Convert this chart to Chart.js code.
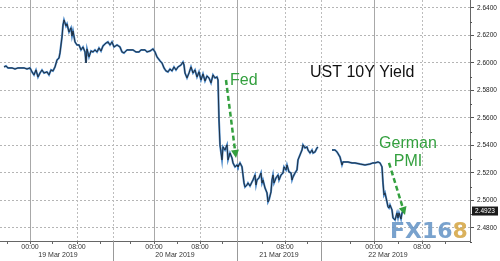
<!DOCTYPE html>
<html>
<head>
<meta charset="utf-8">
<script src="https://cdn.jsdelivr.net/npm/chart.js@4.4.1/dist/chart.umd.min.js"></script>
<style>
  html, body { margin: 0; padding: 0; background: #fff; }
  #wrap { width: 500px; height: 261px; }
</style>
</head>
<body>
<div id="wrap"><canvas id="yieldChart"></canvas></div>
<script>
// bar index on the compressed (session) time axis
const barIndex = [
  4, 6, 8, 12, 15, 18, 21, 24, 27, 30,
  32, 34, 36, 38, 40, 42, 44, 47, 49, 51,
  53, 55, 57, 59, 60, 62, 63, 64, 66, 67,
  69, 71, 72, 73, 75, 77, 79, 81, 83, 85,
  86, 87, 89, 91, 93, 95, 97, 99, 101, 103,
  106, 108, 110, 112, 114, 117, 120, 122, 124, 127,
  130, 133, 136, 139, 141, 145, 147, 150, 153, 155,
  157, 160, 162, 164, 166, 168, 170, 172, 174, 176,
  178, 181, 183, 184, 185, 187, 189, 191, 193, 195,
  197, 199, 201, 203, 205, 207, 209, 211, 213, 215,
  217, 218, 219, 220, 222, 223, 225, 227, 228, 230,
  232, 233, 235, 237, 238, 240, 242, 243, 244, 245,
  247, 248, 250, 252, 253, 255, 256, 257, 259, 261,
  262, 263, 265, 267, 268, 269, 271, 272, 273, 274,
  276, 278, 279, 281, 283, 284, 286, 287, 289, 291,
  292, 293, 295, 297, 298, 300, 302, 303, 305, 307,
  308, 310, 312, 313, 315, 317, 318, 325, 332, 335,
  337, 340, 342, 343, 345, 348, 352, 355, 360, 365,
  370, 373, 375, 378, 380, 382, 383, 384, 385, 387,
  388, 389, 390, 392, 393, 395, 397, 398, 399, 401,
  402, 403
];

// UST 10Y yield (%)
const yieldValues = [
  2.5971, 2.5978, 2.5964, 2.5964, 2.5956, 2.5964, 2.5964, 2.5964, 2.5956, 2.5964,
  2.5935, 2.5913, 2.5949, 2.5898, 2.5927, 2.5949, 2.5927, 2.5935, 2.5913, 2.5949,
  2.5942, 2.5971, 2.6022, 2.6036, 2.6073, 2.6189, 2.6276, 2.6313, 2.6269, 2.6284,
  2.6225, 2.6255, 2.6196, 2.6233, 2.6153, 2.6131, 2.6131, 2.6095, 2.6116, 2.6080,
  2.6000, 2.6102, 2.6044, 2.6087, 2.6080, 2.6095, 2.6080, 2.6109, 2.6087, 2.6124,
  2.6145, 2.6153, 2.6131, 2.6153, 2.6116, 2.6131, 2.6116, 2.6080, 2.6073, 2.6095,
  2.6095, 2.6095, 2.6080, 2.6080, 2.6095, 2.6095, 2.6080, 2.6087, 2.6102, 2.6080,
  2.6044, 2.6015, 2.6000, 2.5964, 2.5942, 2.5935, 2.5956, 2.5942, 2.5971, 2.5949,
  2.5971, 2.5985, 2.6007, 2.5985, 2.5927, 2.5891, 2.5927, 2.5971, 2.5927, 2.5949,
  2.5898, 2.5935, 2.5876, 2.5920, 2.5869, 2.5905, 2.5891, 2.5855, 2.5913, 2.5891,
  2.5898, 2.5876, 2.5585, 2.5404, 2.5295, 2.5389, 2.5367, 2.5404, 2.5295, 2.5345,
  2.5309, 2.5273, 2.5244, 2.5258, 2.5244, 2.5273, 2.5244, 2.5185, 2.5127, 2.5098,
  2.5113, 2.5127, 2.5105, 2.5135, 2.5149, 2.5185, 2.5113, 2.5149, 2.5164, 2.5200,
  2.5127, 2.5149, 2.5091, 2.5055, 2.4989, 2.5004, 2.5062, 2.5149, 2.5185, 2.5127,
  2.5164, 2.5185, 2.5149, 2.5185, 2.5200, 2.5244, 2.5222, 2.5258, 2.5207, 2.5200,
  2.5149, 2.5171, 2.5200, 2.5222, 2.5295, 2.5331, 2.5367, 2.5404, 2.5382, 2.5389,
  2.5367, 2.5345, 2.5367, 2.5345, 2.5353, 2.5382, 2.5389, null, 2.5367, 2.5367,
  2.5353, 2.5316, 2.5258, 2.5280, 2.5280, 2.5280, 2.5273, 2.5273, 2.5265, 2.5258,
  2.5265, 2.5273, 2.5273, 2.5280, 2.5273, 2.5244, 2.5127, 2.5040, 2.5055, 2.4989,
  2.4953, 2.4945, 2.4967, 2.4931, 2.4873, 2.4858, 2.4909, 2.4873, 2.4909, 2.4865,
  2.4909, 2.4923
];

// axis ticks
const yTickValues = [2.48, 2.50, 2.52, 2.54, 2.56, 2.58, 2.60, 2.62, 2.64];
const yMinorValues = [2.47, 2.49, 2.51, 2.53, 2.55, 2.57, 2.59, 2.61, 2.63];
const dayStartBars = [30, 154, 237, 374];
const timeTickBars = [30, 77, 154, 200, 285, 374, 422];
const timeTickLabels = ['00:00', '08:00', '00:00', '08:00', '08:00', '00:00', '08:00'];
const minorTickBars = [7, 52, 100, 130, 177, 222, 262, 307, 350, 398, 445];
const dottedBars = [77, 113, 200, 285, 321, 422];
const dateBreakBars = [113, 237, 321];
const dateLabelBars = [58, 175, 279, 388];
const dateLabels = ['19 Mar 2019', '20 Mar 2019', '21 Mar 2019', '22 Mar 2019'];

const points = barIndex.map((b, i) => ({ x: b, y: yieldValues[i] }));
const lastValue = yieldValues[yieldValues.length - 1];
const lastBar = barIndex[barIndex.length - 1];

Chart.defaults.font.family = '"Liberation Sans", Arial, sans-serif';

function drawArrow(ctx, x1, y1, x2, y2) {
  const ang = Math.atan2(y2 - y1, x2 - x1);
  const head = 8;
  const bx = x2 - head * Math.cos(ang);
  const by = y2 - head * Math.sin(ang);
  ctx.setLineDash([5, 3]);
  ctx.lineWidth = 2.5;
  ctx.beginPath();
  ctx.moveTo(x1, y1);
  ctx.lineTo(bx, by);
  ctx.stroke();
  ctx.setLineDash([]);
  ctx.beginPath();
  ctx.moveTo(x2, y2);
  ctx.lineTo(bx + 4 * Math.sin(ang), by - 4 * Math.cos(ang));
  ctx.lineTo(bx - 4 * Math.sin(ang), by + 4 * Math.cos(ang));
  ctx.closePath();
  ctx.fill();
}

const overlay = {
  id: 'overlay',
  beforeDatasetsDraw(chart) {
    const { ctx, chartArea: a, scales: { x } } = chart;
    ctx.save();
    ctx.lineWidth = 1;
    ctx.strokeStyle = '#a8a8a8';
    dayStartBars.forEach(b => {
      const px = Math.round(x.getPixelForValue(b)) + 0.5;
      ctx.beginPath(); ctx.moveTo(px, a.top); ctx.lineTo(px, a.bottom); ctx.stroke();
    });
    ctx.strokeStyle = '#bdbdbd';
    ctx.setLineDash([2, 2]);
    dottedBars.forEach(b => {
      const px = Math.round(x.getPixelForValue(b)) + 0.5;
      ctx.beginPath(); ctx.moveTo(px, a.top); ctx.lineTo(px, a.bottom); ctx.stroke();
    });
    ctx.restore();
  },
  afterDraw(chart) {
    const { ctx, chartArea: a, scales: { x, y } } = chart;
    ctx.save();

    // x axis ticks, separators and labels
    ctx.strokeStyle = '#666';
    ctx.lineWidth = 1;
    timeTickBars.concat(minorTickBars).forEach(b => {
      const px = Math.round(x.getPixelForValue(b)) + 0.5;
      ctx.beginPath(); ctx.moveTo(px, a.bottom); ctx.lineTo(px, a.bottom + 3); ctx.stroke();
    });
    ctx.strokeStyle = '#999';
    dateBreakBars.forEach(b => {
      const px = Math.round(x.getPixelForValue(b)) + 0.5;
      ctx.beginPath(); ctx.moveTo(px, a.bottom); ctx.lineTo(px, chart.height); ctx.stroke();
    });
    ctx.fillStyle = '#333';
    ctx.font = '7px "Liberation Sans", Arial, sans-serif';
    ctx.textAlign = 'center';
    ctx.textBaseline = 'middle';
    timeTickBars.forEach((b, i) => ctx.fillText(timeTickLabels[i], x.getPixelForValue(b), a.bottom + 6.5));
    dateLabelBars.forEach((b, i) => ctx.fillText(dateLabels[i], x.getPixelForValue(b), a.bottom + 14.5));

    // y minor ticks
    ctx.strokeStyle = '#555';
    yMinorValues.forEach(v => {
      const py = Math.round(y.getPixelForValue(v)) + 0.5;
      ctx.beginPath(); ctx.moveTo(a.right, py); ctx.lineTo(a.right + 2, py); ctx.stroke();
    });

    // title
    ctx.fillStyle = '#111';
    ctx.font = '16px "Liberation Sans", Arial, sans-serif';
    ctx.textAlign = 'left';
    ctx.textBaseline = 'alphabetic';
    ctx.fillText('UST 10Y Yield', x.getPixelForValue(310), y.getPixelForValue(2.5898));

    // annotations
    const green = '#34a03f';
    ctx.fillStyle = green;
    ctx.strokeStyle = green;
    ctx.fillText('Fed', x.getPixelForValue(230), y.getPixelForValue(2.5840));
    ctx.textAlign = 'center';
    ctx.fillText('German', x.getPixelForValue(408), y.getPixelForValue(2.5382));
    ctx.fillText('PMI', x.getPixelForValue(408), y.getPixelForValue(2.5251));
    drawArrow(ctx, x.getPixelForValue(226), y.getPixelForValue(2.5876),
                   x.getPixelForValue(236), y.getPixelForValue(2.5309));
    drawArrow(ctx, x.getPixelForValue(389), y.getPixelForValue(2.5273),
                   x.getPixelForValue(405), y.getPixelForValue(2.4895));

    // watermark
    ctx.font = 'bold 22px "DejaVu Sans", sans-serif';
    ctx.textAlign = 'left';
    ctx.textBaseline = 'alphabetic';
    ctx.fillStyle = 'rgba(98, 146, 196, 0.85)';
    ctx.fillText('FX16', 390, 238);
    const w = ctx.measureText('FX16').width;
    ctx.fillStyle = 'rgba(214, 168, 74, 0.9)';
    ctx.fillText('8', 390 + w, 238);

    // last value box
    const ly = y.getPixelForValue(lastValue);
    ctx.fillStyle = '#1b1b1b';
    ctx.fillRect(a.right + 2, ly - 4.5, 26, 9);
    ctx.fillStyle = '#fff';
    ctx.font = '6.5px "Liberation Sans", Arial, sans-serif';
    ctx.textAlign = 'left';
    ctx.textBaseline = 'middle';
    ctx.fillText(lastValue.toFixed(4), a.right + 5, ly);

    ctx.restore();
  }
};

const ctx = document.getElementById('yieldChart').getContext('2d');
new Chart(ctx, {
  type: 'line',
  data: {
    datasets: [
      {
        data: points,
        borderColor: '#1c2733',
        borderWidth: 0.9,
        pointRadius: 0,
        tension: 0,
        spanGaps: false,
        order: 0
      },
      {
        data: points,
        borderColor: '#4a88c8',
        borderWidth: 2,
        pointRadius: 0,
        tension: 0,
        spanGaps: false,
        order: 1
      }
    ]
  },
  options: {
    responsive: true,
    maintainAspectRatio: false,
    animation: false,
    layout: { padding: 0 },
    plugins: {
      legend: { display: false },
      tooltip: { enabled: false }
    },
    scales: {
      x: {
        type: 'linear',
        min: 0,
        max: 470,
        grid: { display: false },
        ticks: { display: false },
        border: { display: true, color: '#666', width: 1 },
        afterFit(scale) {
          scale.height = 20;
          scale.paddingLeft = 0;
          scale.paddingRight = 0;
        }
      },
      y: {
        position: 'right',
        min: 2.4705,
        max: 2.6458,
        afterBuildTicks(scale) {
          scale.ticks = yTickValues.map(v => ({ value: v }));
        },
        ticks: {
          callback: v => Number(v).toFixed(4),
          font: { size: 6.5 },
          color: '#222',
          padding: 3
        },
        grid: {
          color: '#b5b5b5',
          lineWidth: 1,
          tickLength: 4,
          tickColor: '#555'
        },
        border: { display: true, color: '#666', width: 1, dash: [2, 2] },
        afterFit(scale) {
          scale.width = 30;
          scale.paddingTop = 0;
          scale.paddingBottom = 0;
        }
      }
    }
  },
  plugins: [overlay]
});
</script>
</body>
</html>
